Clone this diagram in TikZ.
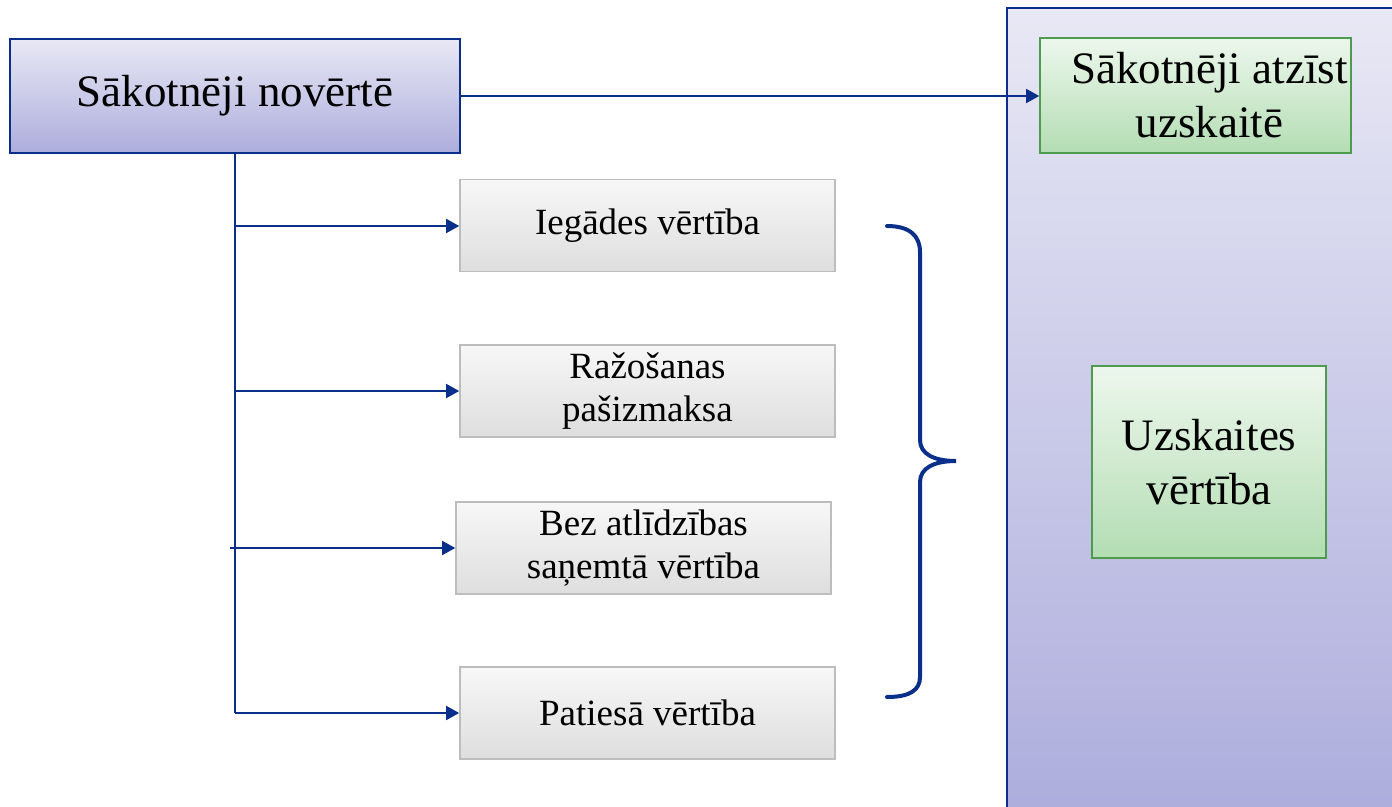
\documentclass[tikz,border=0pt]{standalone}
\usepackage{fontspec}
\setmainfont{Liberation Serif}
\usetikzlibrary{arrows.meta}
\definecolor{navy}{HTML}{0A2F8A}
\definecolor{bluetop}{HTML}{E8E8F5}
\definecolor{bluebot}{HTML}{ADADDD}
\definecolor{greentop}{HTML}{EDF7ED}
\definecolor{greenbot}{HTML}{B3DDB3}
\definecolor{greenedge}{HTML}{4E9A4E}
\definecolor{graytop}{HTML}{F7F7F7}
\definecolor{graybot}{HTML}{DEDEDE}
\definecolor{grayedge}{HTML}{BDBDBD}
\tikzset{
  mainbox/.style={draw=navy, line width=1.6pt, top color=bluetop, bottom color=bluebot,
    minimum width=450pt, minimum height=114pt, inner sep=0pt,
    font=\fontsize{45}{52}\selectfont},
  greenbox/.style={draw=greenedge, line width=1.6pt, top color=greentop, bottom color=greenbot,
    inner sep=0pt, align=center, font=\fontsize{45}{54}\selectfont},
  graybox/.style={draw=grayedge, line width=1.6pt, top color=graytop, bottom color=graybot,
    minimum width=375pt, minimum height=92pt, inner sep=0pt, align=center,
    font=\fontsize{37}{43}\selectfont},
  conn/.style={draw=navy, line width=1.6pt},
  arr/.style={conn, -{Triangle[length=13pt,width=14pt]}},
  bracestyle/.style={draw=navy, line width=4pt, line cap=round}
}
\begin{document}
\begin{tikzpicture}[x=1pt,y=-1pt]
\useasboundingbox (0,0) rectangle (1392,806);
% right panel
\path[draw=navy, line width=1.6pt, top color=bluetop, bottom color=bluebot]
  (1007,8) rectangle (1402,816);
\node[mainbox] (main) at (235,96) {Sākotnēji novērtē};
\node[greenbox, minimum width=311pt, minimum height=115pt] (atz) at (1195.5,95.5)
  {\hspace*{28pt}Sākotnēji atzīst\\\hspace*{28pt}uzskaitē};
\node[greenbox, minimum width=234pt, minimum height=192pt] (usk) at (1209,462) {Uzskaites\\vērtība};
\node[graybox] (b1) at (647.5,225.5) {Iegādes vērtība};
\node[graybox] (b2) at (647.5,391) {Ražošanas\\pašizmaksa};
\node[graybox] (b3) at (643.5,548) {Bez atlīdzības\\saņemtā vērtība};
\node[graybox] (b4) at (647.5,713) {Patiesā vērtība};
% connectors
\coordinate (t0) at (235,153);
\coordinate (t1) at (235,226);
\coordinate (t2) at (235,391);
\coordinate (t3) at (230,548);
\coordinate (t4) at (235,713);
\draw[conn] (main.south -| t0) -- (t4);
\draw[arr] (t1) -- (b1.west |- t1);
\draw[arr] (t2) -- (b2.west |- t2);
\draw[arr] (t3) -- (b3.west |- t3);
\draw[arr] (t4) -- (b4.west |- t4);
\draw[arr] (main.east |- 0,96) -- (atz.west |- 0,96);
% brace
\draw[bracestyle] (887,226) .. controls (910,226) and (920,236) .. (920,252)
  -- (920,440) .. controls (920,454) and (934,461) .. (956,461)
  .. controls (934,461) and (920,468) .. (920,482)
  -- (920,677) .. controls (920,690) and (910,697) .. (887,697);
\end{tikzpicture}
\end{document}
